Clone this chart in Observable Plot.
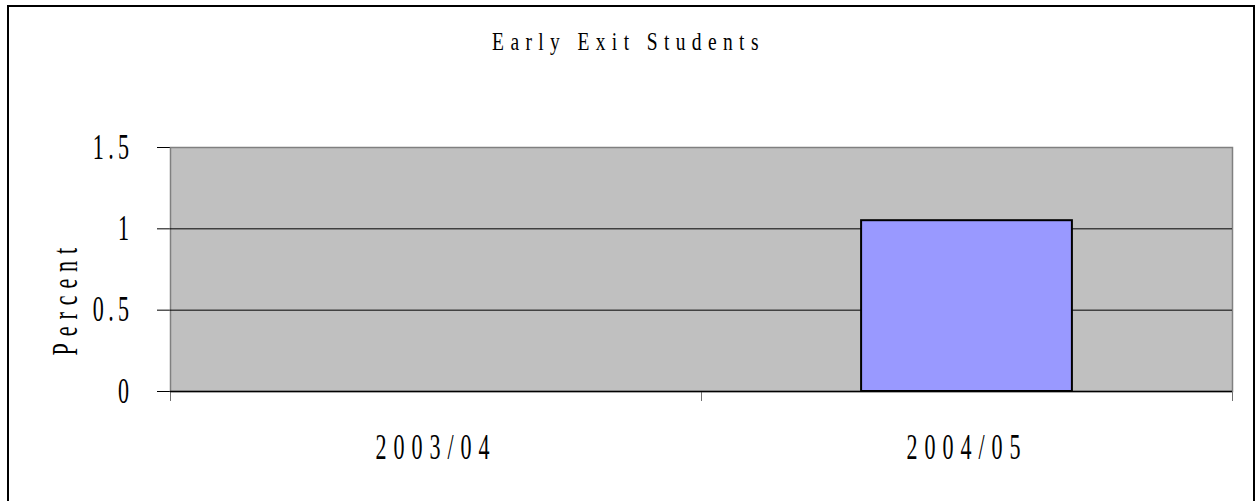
<!DOCTYPE html>
<html>
<head>
<meta charset="utf-8">
<script src="https://cdn.jsdelivr.net/npm/d3@7"></script>
<script src="https://cdn.jsdelivr.net/npm/@observablehq/plot@0.6"></script>
<style>
  html, body { margin: 0; padding: 0; background: #fff; }
  #wrap { position: relative; width: 1257px; height: 501px; overflow: hidden; background: #fff; }
  #border { position: absolute; left: 7px; top: 5px; width: 1244px; height: 600px; border: 2px solid #000; }
  #title { position: absolute; left: 0; top: 29px; width: 1257px; text-align: center;
           font-family: "Liberation Serif", "Times New Roman", serif; font-size: 26px; line-height: 26px;
           letter-spacing: 8.5px; color: #000; transform: scaleX(0.75); transform-origin: 50% 50%; }
  #chart { position: absolute; left: 0; top: 80px; }
</style>
</head>
<body>
<div id="wrap">
  <div id="border"></div>
  <div id="title"></div>
  <div id="chart"></div>
</div>
<script>
const titleText = "Early Exit Students";
const categories = ["2003/04", "2004/05"];
const values = [0, 1.05];
const yTicks = [0, 0.5, 1, 1.5];
const yLabel = "Percent";

document.getElementById("title").textContent = titleText;

const data = categories.map((c, i) => ({ i, category: c, value: values[i] }));
const barPad = 0.3015; // fraction of each category slot left empty on each side

const plot = Plot.plot({
  width: 1257,
  height: 421,
  marginTop: 67,
  marginBottom: 110,
  marginLeft: 170,
  marginRight: 25,
  style: { fontFamily: "Liberation Serif, Times New Roman, serif", fontSize: "35px", color: "#000", background: "transparent" },
  x: { domain: [0, categories.length], ticks: d3.range(categories.length + 1), tickFormat: () => "", tickSize: 10, label: null },
  y: { domain: [0, 1.5], ticks: yTicks, tickSize: 13, tickPadding: 24, label: null, tickFormat: d => String(d) },
  marks: [
    Plot.frame({ fill: "#c0c0c0", stroke: "#808080", strokeWidth: 1.5 }),
    Plot.ruleY(yTicks.filter(t => t > 0 && t < 1.5), { stroke: "#000", strokeWidth: 1 }),
    Plot.rect(data.filter(d => d.value > 0), {
      x1: d => d.i + barPad, x2: d => d.i + 1 - barPad, y1: 0, y2: "value",
      fill: "#9999ff", stroke: "#000", strokeWidth: 2
    }),
    Plot.ruleY([0], { stroke: "#000", strokeWidth: 1.5 }),
    Plot.text(data, { x: d => d.i + 0.5, y: 0, text: "category", dy: 56, fill: "#000", fontSize: 35 }),
    Plot.text([yLabel], { frameAnchor: "left", rotate: -90, dx: -105, dy: 86, text: d => d, fill: "#000", fontSize: 35 })
  ]
});
document.getElementById("chart").appendChild(plot);

// x-axis tick marks are grey in the original
plot.querySelectorAll("g[aria-label='x-axis'] path, g[aria-label='x-axis tick'] path").forEach(p => p.setAttribute("stroke", "#707070"));

// condensed, letter-spaced text like the original rendering
plot.querySelectorAll("text").forEach(t => {
  const isYTick = t.closest("g[aria-label='y-axis'], g[aria-label='y-axis tick label']");
  t.style.letterSpacing = isYTick ? "7px" : "11px";
  const len = t.getComputedTextLength();
  if (len > 0) {
    t.setAttribute("textLength", (len * 0.63).toFixed(1));
    t.setAttribute("lengthAdjust", "spacingAndGlyphs");
  }
});
</script>
</body>
</html>
